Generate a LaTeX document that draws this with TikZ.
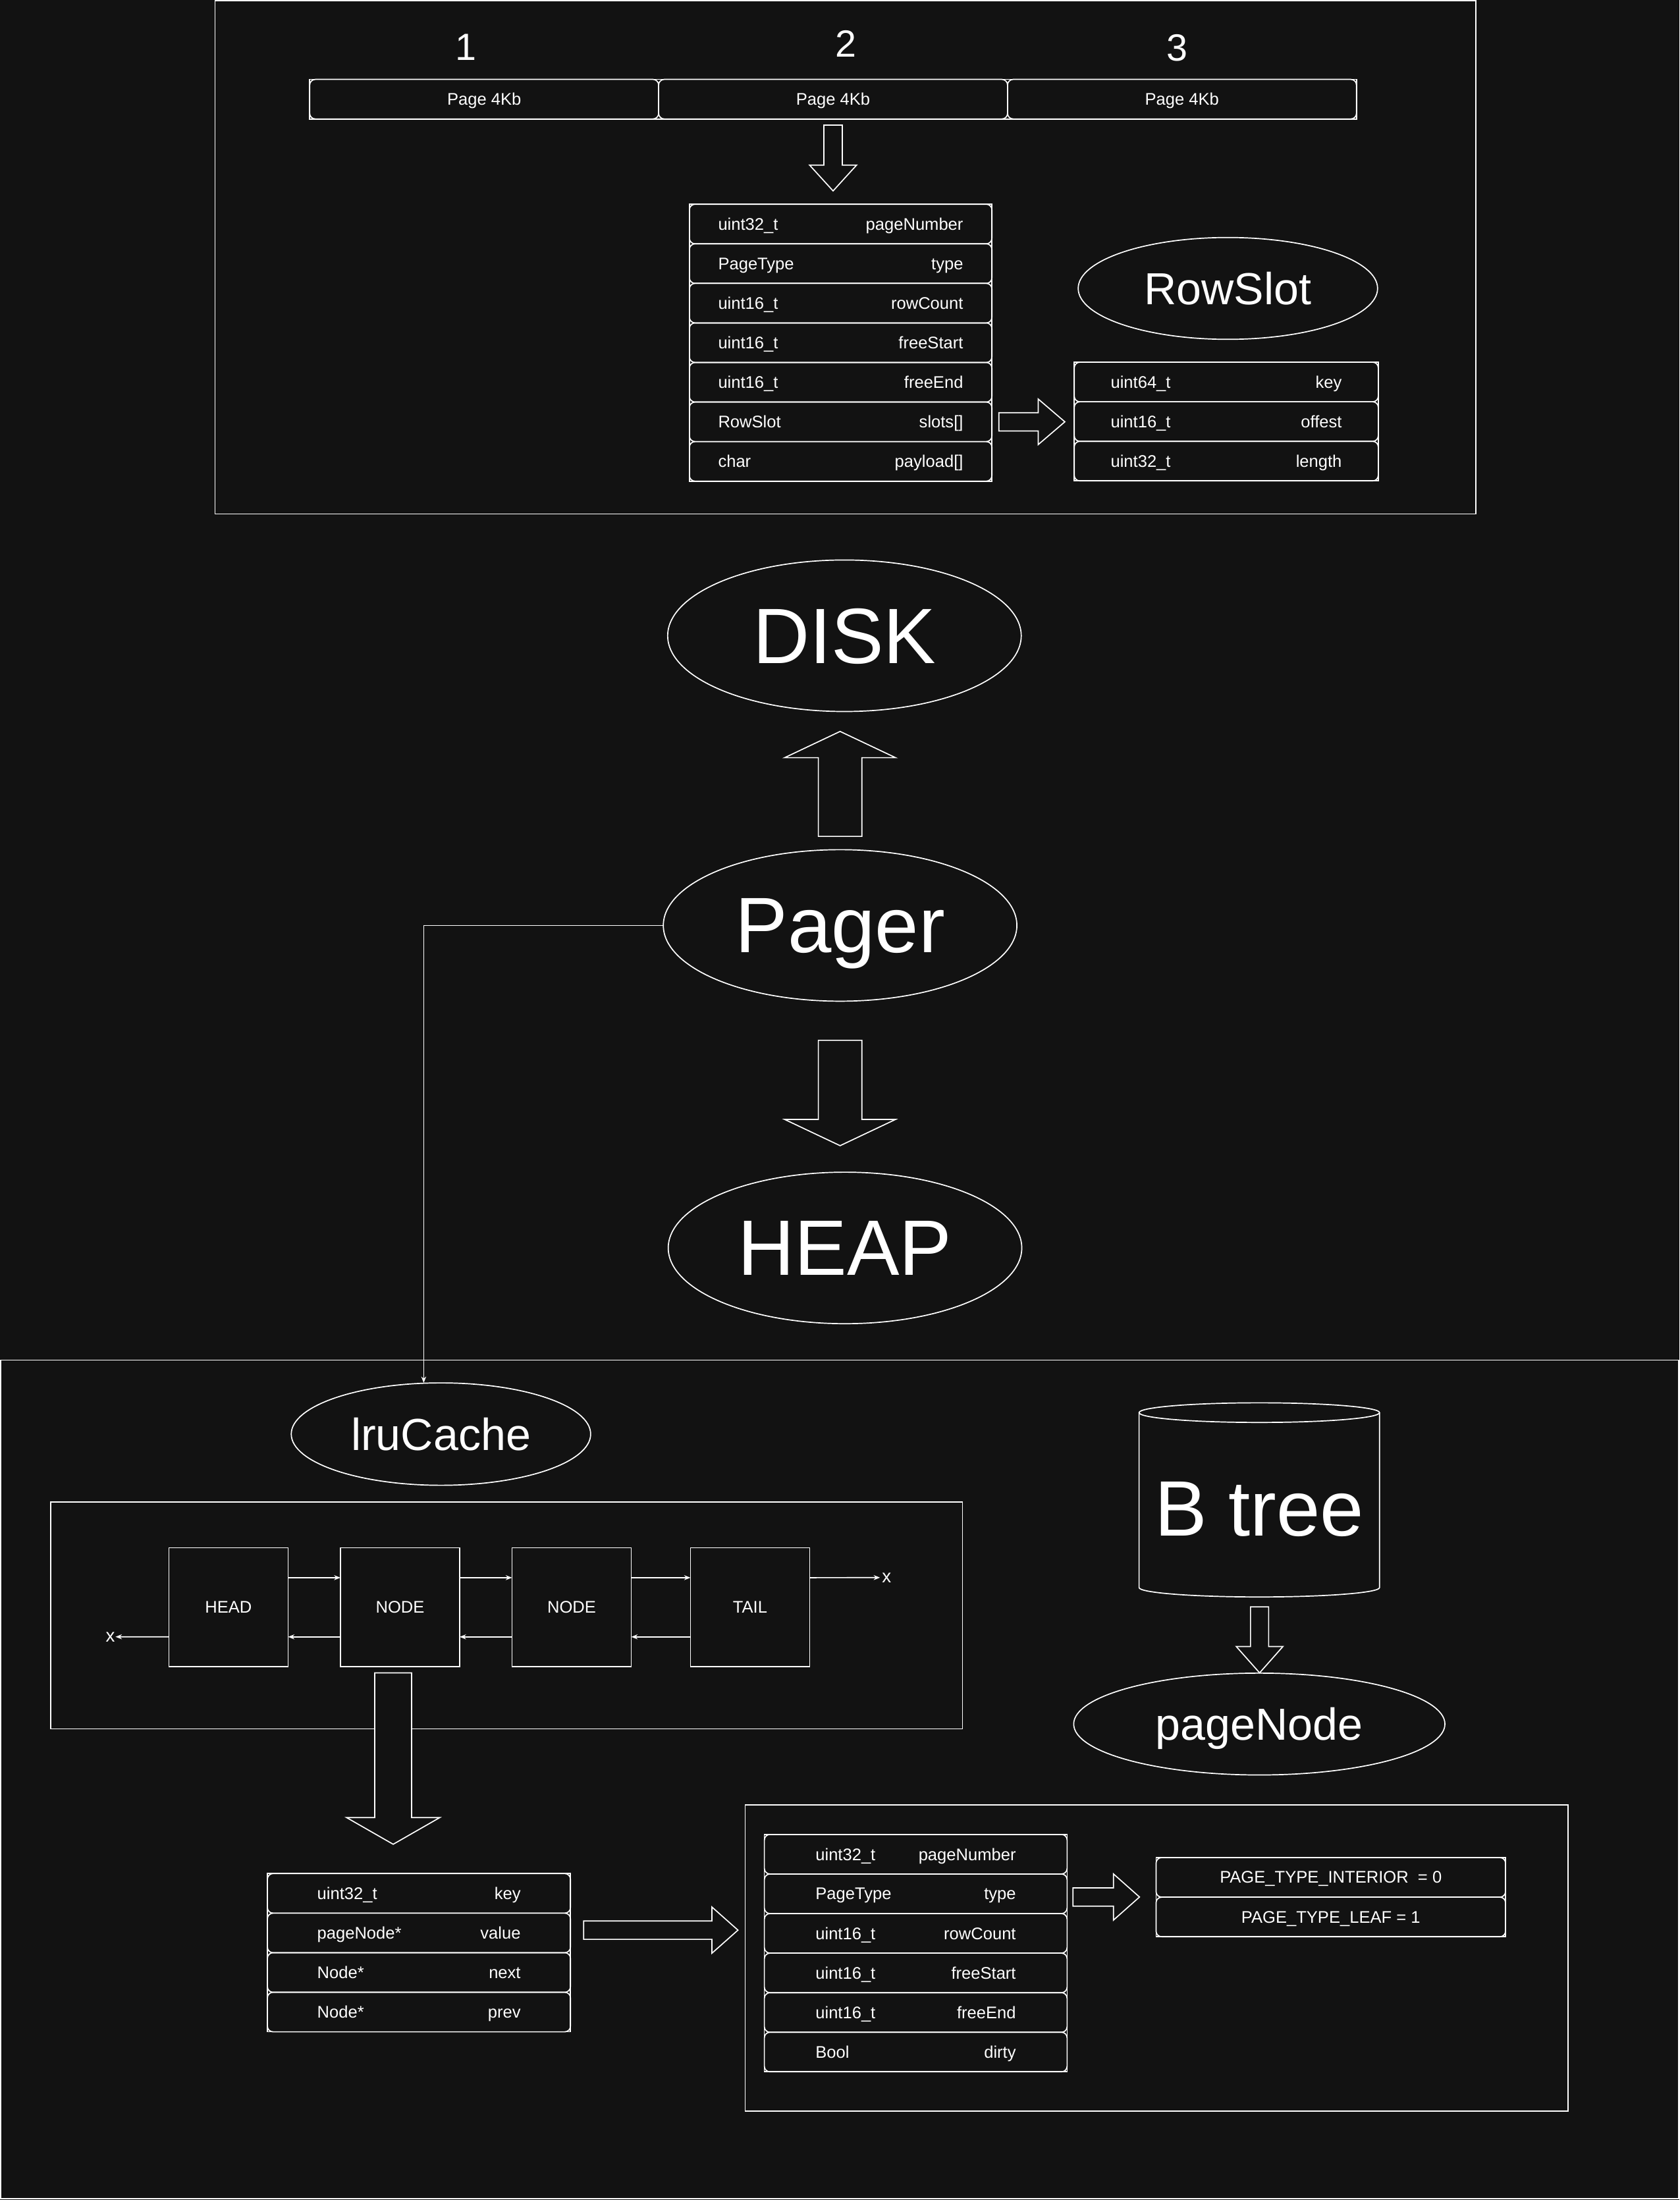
\documentclass[tikz,border=0pt]{standalone}
\usepackage{fontspec}
\setmainfont{Liberation Sans}
\usetikzlibrary{arrows.meta, positioning, fit, shapes.geometric}

\definecolor{bgc}{HTML}{121212}

\begin{document}
\begin{tikzpicture}[
    x = 1pt, y = -1pt, % coordinates, y going down
    every node/.style = {text = white, outer sep = 0pt, text depth = 0pt},
    wire/.style = {draw = white, line width = 0.8pt}, % every outline
    link/.style = {wire, -{Stealth[length = 4.5pt, width = 3.5pt]}},
    smalltext/.style = {font = \fontsize{12}{14}\selectfont},
    midtext/.style = {font = \fontsize{32}{38}\selectfont},
    bigtext/.style = {font = \fontsize{56}{66}\selectfont},
    numtext/.style = {font = \fontsize{27}{32}\selectfont},
    bubble/.style = {ellipse, wire, inner sep = 0pt},
    field/.style = {wire, smalltext, rounded corners = 4pt, minimum height = 28.2pt, inner ysep = 0pt},
    hdrrow/.style = {field, text width = 174.6pt, inner xsep = 20.5pt},
    slotrow/.style = {field, text width = 164.7pt, inner xsep = 26pt},
    cacherow/.style = {field, text width = 145pt, inner xsep = 35.5pt},
    noderow/.style = {field, text width = 142.8pt, inner xsep = 36.5pt},
    listbox/.style = {wire, smalltext, minimum width = 85pt, minimum height = 84.5pt}
    ]

    \tikzset{pics/fat/.style n args = {4}{code = {
        \draw[wire, fill = bgc] (0,-#2/2) -- (#1-#4,-#2/2) -- (#1-#4,-#3/2) -- (#1,0)
            -- (#1-#4,#3/2) -- (#1-#4,#2/2) -- (0,#2/2) -- cycle;
    }}}

    \fill[bgc] (0,0) rectangle (1197,1568.3);
    \useasboundingbox (0,0) rectangle (1197,1568.3);

    % disk file
    \draw[wire] (153.3,0.5) rectangle (1052,366.4);

    \node[numtext] (n1) at (332,33.5) {1};
    \node[numtext] (n2) at (602.8,31) {2};
    \node[numtext] (n3) at (839,34) {3};

    \node[field, minimum width = 248.7pt] (pg1) at (345.1,70.7) {Page 4Kb};
    \node[field, minimum width = 248.7pt] (pg2) [right = 0pt of pg1] {Page 4Kb};
    \node[field, minimum width = 248.7pt] (pg3) [right = 0pt of pg2] {Page 4Kb};
    \node[wire, fit = (pg1)(pg3), inner sep = 0pt] (pgbox) {};

    \node[hdrrow] (hd1) at (599.2,159.7) {uint32\_t\hfill pageNumber};
    \node[hdrrow] (hd2) [below = 0pt of hd1] {PageType\hfill type};
    \node[hdrrow] (hd3) [below = 0pt of hd2] {uint16\_t\hfill rowCount};
    \node[hdrrow] (hd4) [below = 0pt of hd3] {uint16\_t\hfill freeStart};
    \node[hdrrow] (hd5) [below = 0pt of hd4] {uint16\_t\hfill freeEnd};
    \node[hdrrow] (hd6) [below = 0pt of hd5] {RowSlot\hfill slots[]};
    \node[hdrrow] (hd7) [below = 0pt of hd6] {char\hfill payload[]};
    \node[wire, fit = (hd1)(hd7), inner sep = 0pt] (hdbox) {};

    \node[bubble, midtext, minimum width = 213.4pt, minimum height = 72.6pt] (rowslot) at (875.2,205.6) {RowSlot};

    \node[slotrow] (sl1) at (874.05,272.3) {uint64\_t\hfill key};
    \node[slotrow] (sl2) [below = 0pt of sl1] {uint16\_t\hfill offest};
    \node[slotrow] (sl3) [below = 0pt of sl2] {uint32\_t\hfill length};
    \node[wire, fit = (sl1)(sl3), inner sep = 0pt] (slbox) {};

    \pic[rotate = -90] at ([yshift = -4.4pt]pg2.south) {fat = {46.9}{13.1}{33.5}{18.4}};
    \pic at ([xshift = 5pt]hd6.east) {fat = {47}{13}{32.5}{19}};

    % pager between disk and heap
    \node[bubble, bigtext, minimum width = 252pt, minimum height = 108pt] (disk) at (601.9,453.2) {DISK};
    \node[bubble, bigtext, minimum width = 252pt, minimum height = 108pt] (pager) at (598.8,659.7) {Pager};
    \node[bubble, bigtext, minimum width = 252pt, minimum height = 108pt] (heap) at (602.3,889.6) {HEAP};

    \pic[rotate = 90] at ([yshift = 9.5pt]pager.north) {fat = {74.8}{31}{79}{18.7}};
    \pic[rotate = -90] at ([yshift = -27.9pt]pager.south) {fat = {75.1}{31}{79}{18.7}};

    % cache and tree in memory
    \draw[wire] (0.5,969.5) rectangle (1196.5,1567.5);

    \node[bubble, midtext, minimum width = 213.4pt, minimum height = 73pt] (lru) at (314.3,1022.3) {lruCache};
    \draw[link] (pager.west) -| ([xshift = -12.3pt]lru.north);

    \draw[wire] (36,1070.6) rectangle (686,1232.4);
    \node[listbox] (head) at (162.85,1145.65) {HEAD};
    \node[listbox] (nodeA) [right = 37.3pt of head] {NODE};
    \node[listbox] (nodeB) [right = 37.3pt of nodeA] {NODE};
    \node[listbox] (tail) [right = 42.2pt of nodeB] {TAIL};
    \node[font = \fontsize{13}{15}\selectfont, inner sep = 0.5pt] (xl) at (78.6,1166.8) {x};
    \node[font = \fontsize{13}{15}\selectfont, inner sep = 1.5pt] (xr) at (632,1124.6) {x};

    \draw[link] ([yshift = 21pt]head.east) -- ([yshift = 21pt]nodeA.west);
    \draw[link] ([yshift = 21pt]nodeA.east) -- ([yshift = 21pt]nodeB.west);
    \draw[link] ([yshift = 21pt]nodeB.east) -- ([yshift = 21pt]tail.west);
    \draw[link] ([yshift = 21pt]tail.east) -- (xr.west);
    \draw[link] ([yshift = -21.2pt]tail.west) -- ([yshift = -21.2pt]nodeB.east);
    \draw[link] ([yshift = -21.2pt]nodeB.west) -- ([yshift = -21.2pt]nodeA.east);
    \draw[link] ([yshift = -21.2pt]nodeA.west) -- ([yshift = -21.2pt]head.east);
    \draw[link] ([yshift = -21.2pt]head.west) -- (xl.east);

    \pic[rotate = -90] at ([xshift = -4.9pt, yshift = -4.6pt]nodeA.south) {fat = {122.2}{26.3}{66.3}{19}};

    \node[cacherow] (ln1) at (298.6,1349.7) {uint32\_t\hfill key};
    \node[cacherow] (ln2) [below = 0pt of ln1] {pageNode*\hfill value};
    \node[cacherow] (ln3) [below = 0pt of ln2] {Node*\hfill next};
    \node[cacherow] (ln4) [below = 0pt of ln3] {Node*\hfill prev};
    \node[wire, fit = (ln1)(ln4), inner sep = 0pt] (lnbox) {};

    \pic at ([xshift = 9.4pt, yshift = 2pt]ln2.east) {fat = {110}{13.1}{33}{18.6}};

    % b tree
    \draw[wire, fill = bgc] (811.9,1007) -- (811.9,1131.7)
        arc[start angle = 180, end angle = 360, x radius = 85.7pt, y radius = 6.7pt] -- (983.3,1007);
    \draw[wire] (897.6,1007) ellipse [x radius = 85.7pt, y radius = 7pt];
    \node[bigtext] (btree) at (897.6,1075.6) {B tree};

    \pic[rotate = -90] at (897.8,1145.5) {fat = {47}{12.9}{33.3}{18.8}};
    \node[bubble, midtext, minimum width = 264.6pt, minimum height = 72.6pt] (pagenode) at (897.6,1229) {pageNode};

    \draw[wire] (531.2,1286.5) rectangle (1117.8,1504.9);
    \node[noderow] (pn1) at (652.7,1321.8) {uint32\_t\hfill pageNumber};
    \node[noderow] (pn2) [below = 0pt of pn1] {PageType\hfill type};
    \node[noderow] (pn3) [below = 0pt of pn2] {uint16\_t\hfill rowCount};
    \node[noderow] (pn4) [below = 0pt of pn3] {uint16\_t\hfill freeStart};
    \node[noderow] (pn5) [below = 0pt of pn4] {uint16\_t\hfill freeEnd};
    \node[noderow] (pn6) [below = 0pt of pn5] {Bool\hfill dirty};
    \node[wire, fit = (pn1)(pn6), inner sep = 0pt] (pnbox) {};

    \pic at ([xshift = 4.2pt, yshift = -2.3pt]pn2.east) {fat = {47.4}{13.1}{33}{18.6}};

    \node[field, minimum width = 249.1pt] (en1) at (948.55,1338.3) {PAGE\_TYPE\_INTERIOR\ \ = 0};
    \node[field, minimum width = 249.1pt] (en2) [below = 0pt of en1] {PAGE\_TYPE\_LEAF = 1};
    \node[wire, fit = (en1)(en2), inner sep = 0pt] (enbox) {};

\end{tikzpicture}
\end{document}
